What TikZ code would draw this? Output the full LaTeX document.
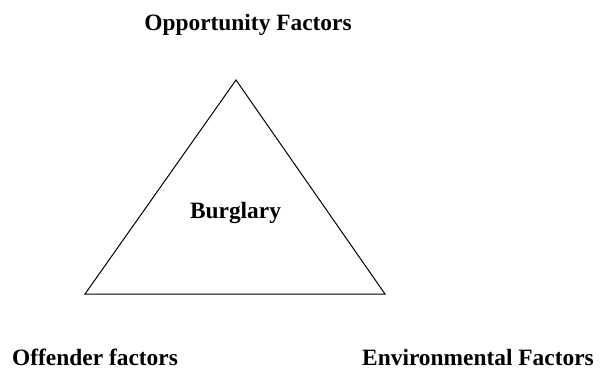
\documentclass[tikz,border=0pt]{standalone}
\usepackage{fontspec}
\setmainfont{Liberation Serif}
\begin{document}
\begin{tikzpicture}[x=1pt,y=-1pt,
  lbl/.style={font=\fontsize{23.4}{27}\selectfont\bfseries, inner sep=0pt}]
\useasboundingbox (0,0) rectangle (605,369);
\coordinate (top) at (236,80);
\coordinate (bl) at (85,294);
\coordinate (br) at (385,294);
\draw[line width=1pt] (top) -- (bl) -- (br) -- cycle;
\node[lbl, anchor=base] (opp) at (248,31) {Opportunity Factors};
\node[lbl, anchor=base] (burg) at (235.5,218) {Burglary};
\node[lbl, anchor=base west] (off) at (12,365) {Offender factors};
\node[lbl, anchor=base east] (env) at (594,365) {Environmental Factors};
\end{tikzpicture}
\end{document}
